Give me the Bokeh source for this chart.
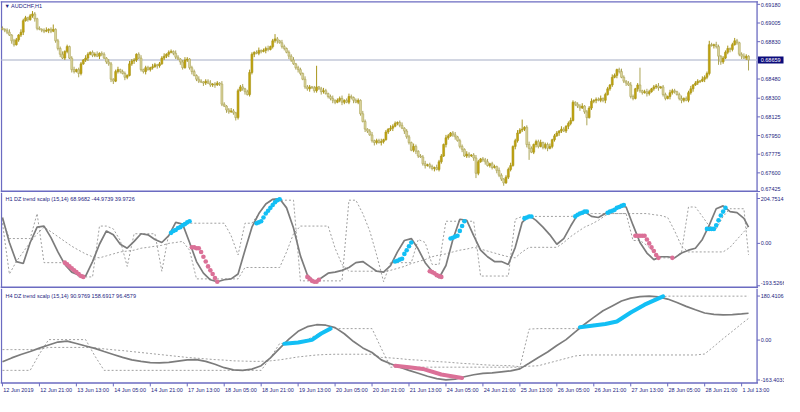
from bokeh.plotting import figure
from bokeh.layouts import column
from bokeh.models import Range1d, ColumnDataSource
from bokeh.core.properties import value
from bokeh.embed import file_html
from bokeh.resources import INLINE

# ---------------- data ----------------
symbol_title = "\u25BC AUDCHF,H1"
h1_title = "H1 DZ trend scalp (15,14) 68.9682 -44.9739 39.9726"
h4_title = "H4 DZ trend scalp (15,14) 90.9769 158.6917 96.4579"

# H1 closes in 1e-5 price units, one per bar
close_pts = [
    68946, 68937, 68919, 68892, 68838, 68802, 68847, 68892, 68919, 69027, 69054, 69036, 69072, 69090, 69045, 68955, 68946, 68937,
    68928, 68937, 68946, 68928, 68946, 68838, 68766, 68712, 68676, 68739, 68784, 68676, 68568, 68550, 68568, 68532, 68622, 68658,
    68676, 68712, 68730, 68703, 68712, 68694, 68721, 68712, 68676, 68640, 68622, 68478, 68460, 68550, 68568, 68550, 68532, 68496,
    68514, 68622, 68649, 68658, 68712, 68676, 68568, 68550, 68586, 68568, 68586, 68595, 68613, 68604, 68622, 68676, 68694, 68712,
    68730, 68739, 68721, 68685, 68667, 68640, 68586, 68658, 68667, 68586, 68550, 68514, 68478, 68460, 68451, 68442, 68460, 68442,
    68424, 68433, 68424, 68442, 68433, 68244, 68226, 68190, 68172, 68181, 68163, 68118, 68370, 68406, 68388, 68361, 68334, 68541,
    68712, 68730, 68721, 68748, 68739, 68748, 68766, 68757, 68784, 68838, 68856, 68838, 68820, 68784, 68766, 68730, 68694, 68658,
    68622, 68586, 68568, 68532, 68478, 68406, 68388, 68406, 68397, 68370, 68406, 68388, 68361, 68370, 68343, 68316, 68298, 68280,
    68262, 68280, 68298, 68262, 68280, 68262, 68316, 68307, 68280, 68262, 68280, 68154, 68082, 68010, 67992, 67956, 67902, 67884,
    67902, 67884, 67893, 67911, 67983, 68010, 68019, 68037, 68064, 68073, 68046, 68019, 67992, 67938, 67884, 67812, 67848, 67803,
    67758, 67749, 67686, 67668, 67677, 67659, 67641, 67650, 67632, 67704, 67758, 67866, 67929, 67947, 67974, 67956, 67938, 67902,
    67848, 67821, 67758, 67776, 67758, 67767, 67740, 67596, 67704, 67731, 67722, 67704, 67668, 67686, 67650, 67659, 67623, 67578,
    67542, 67506, 67560, 67632, 67668, 67848, 67902, 67974, 68001, 68010, 68028, 67866, 67830, 67794, 67866, 67893, 67848, 67884,
    67839, 67866, 67830, 67848, 67911, 67947, 67974, 67992, 68010, 67992, 68037, 68064, 68091, 68262, 68244, 68226, 68208, 68226,
    68172, 68118, 68208, 68271, 68280, 68289, 68280, 68298, 68280, 68334, 68388, 68424, 68496, 68514, 68568, 68550, 68496, 68460,
    68442, 68424, 68316, 68298, 68388, 68424, 68370, 68352, 68361, 68343, 68361, 68388, 68406, 68415, 68397, 68406, 68334, 68298,
    68316, 68352, 68370, 68361, 68334, 68298, 68280, 68298, 68280, 68352, 68388, 68424, 68442, 68460, 68460, 68478, 68496, 68532,
    68802, 68793, 68802, 68784, 68694, 68640, 68676, 68730, 68766, 68757, 68802, 68838, 68820, 68712, 68694, 68676, 68694, 68659,
]
first_open_pts = 68955
upper_wick = [
    18, 9, 18, 27, 9, 18, 18, 9, 27, 18, 18, 9, 18, 27, 18, 9, 18, 9,
    18, 27, 9, 18, 45, 9, 18, 18, 27, 9, 18, 9, 18, 27, 9, 18, 18, 9,
    27, 18, 9, 18, 18, 27, 9, 18, 18, 9, 27, 18, 9, 18, 27, 9, 18, 18,
    9, 27, 18, 18, 9, 18, 27, 9, 18, 18, 9, 27, 18, 9, 18, 18, 27, 9,
    18, 18, 9, 27, 18, 9, 18, 27, 18, 9, 18, 18, 9, 27, 18, 9, 18, 18,
    27, 9, 18, 18, 9, 27, 18, 9, 18, 27, 18, 9, 18, 18, 27, 9, 18, 27,
    18, 9, 18, 27, 9, 18, 18, 27, 9, 18, 45, 18, 9, 27, 18, 9, 18, 18,
    27, 9, 18, 18, 9, 27, 18, 18, 9, 18, 198, 9, 18, 27, 18, 9, 18, 27,
    9, 18, 18, 27, 9, 18, 27, 18, 9, 18, 18, 9, 27, 18, 9, 18, 27, 9,
    18, 18, 27, 9, 18, 9, 27, 18, 18, 9, 18, 27, 9, 18, 18, 9, 27, 18,
    9, 18, 18, 27, 9, 18, 18, 9, 27, 18, 18, 9, 27, 18, 9, 18, 27, 9,
    18, 18, 9, 27, 18, 9, 18, 27, 18, 9, 18, 18, 27, 9, 18, 18, 9, 27,
    18, 9, 18, 18, 27, 9, 18, 27, 18, 90, 9, 18, 27, 18, 9, 18, 18, 27,
    9, 18, 18, 27, 9, 18, 18, 9, 27, 18, 9, 18, 27, 18, 9, 18, 18, 27,
    9, 18, 18, 27, 9, 18, 18, 27, 9, 18, 18, 9, 27, 18, 9, 18, 27, 18,
    9, 18, 27, 18, 9, 18, 162, 9, 18, 27, 18, 9, 18, 18, 27, 9, 18, 18,
    9, 27, 18, 18, 9, 18, 27, 9, 18, 18, 27, 9, 18, 18, 9, 27, 18, 18,
    36, 18, 9, 27, 18, 9, 18, 18, 27, 9, 18, 27, 18, 9, 18, 27, 18, 9,
]
lower_wick = [
    9, 18, 18, 9, 27, 18, 9, 18, 18, 27, 9, 18, 9, 18, 27, 18, 9, 18,
    18, 9, 27, 18, 9, 18, 18, 27, 9, 18, 18, 9, 27, 18, 9, 36, 18, 9,
    18, 27, 9, 18, 18, 9, 27, 18, 9, 18, 18, 27, 27, 9, 18, 18, 9, 27,
    18, 9, 18, 27, 18, 9, 18, 18, 27, 9, 18, 18, 9, 27, 18, 9, 18, 18,
    27, 9, 18, 18, 9, 27, 18, 9, 18, 18, 27, 9, 18, 18, 9, 27, 18, 9,
    18, 18, 27, 9, 18, 18, 9, 27, 18, 9, 18, 27, 18, 9, 18, 27, 9, 18,
    18, 27, 9, 18, 18, 9, 27, 18, 9, 18, 18, 27, 9, 18, 18, 9, 27, 18,
    9, 18, 27, 18, 9, 18, 18, 27, 9, 18, 18, 9, 27, 18, 9, 18, 18, 27,
    18, 9, 18, 27, 18, 9, 18, 18, 27, 9, 18, 18, 9, 27, 18, 9, 18, 27,
    18, 9, 27, 18, 9, 18, 18, 27, 9, 18, 18, 9, 27, 18, 18, 9, 18, 27,
    18, 9, 18, 27, 9, 18, 18, 27, 9, 18, 18, 9, 27, 18, 9, 18, 27, 9,
    18, 27, 9, 18, 18, 9, 27, 45, 18, 9, 18, 27, 9, 18, 18, 9, 27, 18,
    18, 27, 9, 18, 18, 9, 27, 18, 9, 18, 18, 27, 108, 9, 18, 27, 18, 9,
    18, 18, 27, 9, 18, 18, 9, 27, 18, 9, 18, 27, 18, 9, 18, 18, 27, 9,
    18, 72, 9, 18, 18, 27, 9, 18, 18, 27, 9, 18, 18, 9, 27, 18, 9, 18,
    27, 9, 18, 18, 9, 27, 18, 18, 9, 27, 18, 9, 18, 18, 27, 9, 18, 18,
    9, 27, 18, 18, 9, 18, 27, 18, 9, 18, 18, 27, 9, 18, 18, 9, 27, 18,
    18, 9, 27, 18, 81, 27, 18, 9, 18, 27, 18, 9, 18, 18, 27, 9, 18, 99,
]
last_price = 0.68659
last_price_label = "0.68659"
price_ticks = [0.69180, 0.69005, 0.68830, 0.68480, 0.68300, 0.68125,
               0.67950, 0.67775, 0.67600, 0.67425]
price_tick_labels = ["0.69180", "0.69005", "0.68830", "0.68480", "0.68300",
                     "0.68125", "0.67950", "0.67775", "0.67600", "0.67425"]

date_tick_bars = list(range(0, 321, 16))
date_labels = ["12 Jun 2019", "12 Jun 21:00", "13 Jun 13:00", "14 Jun 05:00",
               "14 Jun 21:00", "17 Jun 13:00", "18 Jun 05:00", "18 Jun 21:00",
               "19 Jun 13:00", "20 Jun 05:00", "20 Jun 21:00", "21 Jun 13:00",
               "24 Jun 05:00", "24 Jun 21:00", "25 Jun 13:00", "26 Jun 05:00",
               "26 Jun 21:00", "27 Jun 13:00", "28 Jun 05:00", "28 Jun 21:00",
               "1 Jul 13:00"]

# H1 DZ trend scalp (sampled every 3 bars)
h1_ticks = [204.7514, 0.0, -193.5266]
h1_tick_labels = ["204.7514", "0.00", "-193.5266"]
h1_bars = list(range(0, 324, 3)) + [323]
h1_main = [118, 4, -83, -92, 4, 74, 79, 26, -39, -96,
           -131, -144, -149, -83, -4, 57, 39, -4, -22, 9,
           44, 39, 18, 4, 35, 96, 88, 4, -83, -136,
           -166, -175, -166, -162, -140, -31, 74, 136, 180, 201,
           204, 162, 70, -57, -144, -175, -158, -136, -131, -123,
           -110, -88, -83, -105, -127, -131, -101, -39, 13, 22,
           -26, -88, -127, -158, -101, 18, 110, 105, 35, -31,
           -61, -83, -83, -96, -18, 96, 127, 105, 74, 39,
           -4, 22, 79, 131, 145, 123, 118, 136, 149, 171,
           166, 83, 4, -44, -74, -61, -61, -66, -44, -31,
           -22, 18, 83, 158, 171, 145, 140, 114, 74]
h1_band_a = [110, 22, 22, 22, 22, 136, -88, -88, -88, -88,
             -118, -153, -153, -153, 79, 79, 66, 13, -105, 44,
             44, 44, 44, -127, 44, 57, 79, 92, 92, 92,
             92, 92, 92, 35, -53, 92, 92, 136, 180, 197,
             197, 197, 197, -171, -171, -171, -171, -171, -171, -171,
             197, 197, 136, 57, -53, -175, -88, -88, -88, -88,
             18, 4, -96, -96, 101, 101, 101, 101, 101, -149,
             -149, -149, -149, -149, 110, 123, 123, 123, 123, 123,
             123, 123, 123, 127, 136, 136, 136, 136, 136, 136,
             136, 13, 13, -9, -39, -66, -66, -66, -39, 166,
             166, 123, 79, 66, 123, 158, 158, 158, -53]
h1_band_b = [92, -140, -83, -39, 4, 44, 74, 53, 31, 9,
             -13, -31, -48, -61, -66, -57, -48, -39, -35, -31,
             -22, -18, -13, -9, 0, 4, 9, -31, -162, -162,
             -162, -162, -162, -162, -162, -110, -110, -110, -110, -110,
             -110, -39, 44, 79, 79, 79, 79, 79, -22, -96,
             -127, -127, -127, -127, -127, -131, -123, -114, -105, -92,
             -83, -74, -61, -53, -48, -39, -31, -26, -18, -26,
             -35, -44, -53, -61, -66, -39, -18, -18, -18, -18,
             -18, 4, 31, 53, 74, 88, 105, 127, 136, 136,
             136, 136, 136, 136, 131, 127, 118, 57, -13, -39,
             -39, -39, -39, -39, -39, -18, 18, 53, 79]
h1_up_bars = (list(range(73, 82)) + list(range(110, 121)) + list(range(170, 178))
              + list(range(194, 201)) + list(range(226, 230)) + list(range(248, 254))
              + list(range(262, 270)) + list(range(305, 314)))
h1_up_vals = ([48, 57, 61, 70, 74, 83, 88, 96, 101]
              + [92, 96, 101, 118, 136, 149, 162, 175, 188, 197, 201]
              + [-83, -79, -74, -70, -48, -31, -13, 4]
              + [22, 26, 31, 35, 57, 79, 101]
              + [114, 118, 123, 123]
              + [123, 131, 136, 140, 145, 145]
              + [140, 145, 149, 153, 162, 166, 171, 175]
              + [66, 66, 66, 66, 83, 105, 127, 145, 162])
h1_dn_bars = (list(range(27, 36)) + list(range(82, 94)) + list(range(132, 138))
              + list(range(185, 191)) + list(range(274, 285)) + [290])
h1_dn_vals = ([-88, -96, -105, -114, -123, -131, -140, -149, -153]
              + [-18, -18, -22, -22, -39, -61, -83, -105, -123, -140, -158, -175]
              + [-153, -162, -171, -175, -175, -166]
              + [-127, -131, -136, -145, -149, -153]
              + [35, 35, 35, 35, 35, 18, 0, -18, -35, -53, -66]
              + [-66])

# H4 DZ trend scalp (sampled every 4 bars)
h4_ticks = [180.4106, 0.0, -163.4033]
h4_tick_labels = ["180.4106", "0.00", "-163.4033"]
h4_bars = list(range(0, 324, 4)) + [323]
h4_main = [-89, -73, -59, -47, -33, -20, -8, -4, -14, -24,
           -34, -47, -59, -71, -81, -87, -92, -93, -91, -86,
           -81, -80, -87, -99, -113, -122, -124, -119, -105, -73,
           -34, 4, 36, 55, 63, 61, 51, 26, -6, -32,
           -51, -81, -97, -111, -124, -136, -148, -158, -163, -160,
           -150, -142, -136, -134, -130, -126, -118, -95, -71, -49,
           -22, 2, 34, 65, 93, 120, 140, 160, 172, 178,
           180, 177, 168, 154, 138, 124, 111, 105, 103, 104,
           107, 110]
h4_band_a = ([-124] * 4 + [-57] + [2] * 5 + [-65] + [-124] * 18 + [-73, -14, -14, -6, 2, 22, 41]
             + [47] * 5 + [-34] + [-111] * 15 + [45] + [47] * 5
             + [53, 65, 67, 73, 81, 113, 140, 160, 176] + [180] * 10)
h4_band_b = ([-39] * 4 + [-38] + [-30] * 5
             + [-32, -36, -40, -43, -47, -51, -55, -59, -63, -67, -71, -74, -77, -80, -82, -85,
                -86, -87, -87, -85, -81, -75, -69, -65, -61, -59]
             + [-58] * 5
             + [-71, -73, -76, -80, -82, -85, -88, -90, -93, -96, -98, -101, -103, -104, -105,
                -109, -107, -105, -95, -85, -75, -65]
             + [-61] * 13 + [-57, -26, 6, 36, 67, 89])
h4_up1_bars = [122, 128, 134, 138, 142]
h4_up1_vals = [-15, -10, 1, 27, 47]
h4_dn1_bars = [170, 176, 182, 190, 199]
h4_dn1_vals = [-105, -111, -118, -141, -155]
h4_up2_bars = [250, 261, 266, 272, 278, 286]
h4_up2_vals = [53, 66, 76, 113, 145, 179]

# ---------------- layout / style ----------------
BORDER = "#6b6bc1"
TEXT = "#25257f"
FONT = "Liberation Sans"
FS = "5.5px"
GREY = "#7c7c7c"
DOT = "#a0a0a0"
BLUE = "#12bff5"
PINK = "#db7097"
W = 784
PX = 2.357                       # bar spacing in reference pixels
X0 = -0.85                       # bar index at the left edge of the page
X1 = (800 - 2) / PX              # bar index at the right edge
XL = (1 - 2) / PX                # left border
XA = (772 - 2) / PX              # price scale line
XT = (775 - 2) / PX              # end of scale tick marks
XS = (775 - 2) / PX              # scale label start
XB = (799 - 2) / PX              # end of current price box

x_range = Range1d(X0, X1)


def pane(h, y_top, y_bot):
    p = figure(width=W, height=h, frame_width=W, frame_height=h, x_range=x_range,
               y_range=Range1d(y_bot, y_top), output_backend="svg",
               toolbar_location=None, x_axis_location=None, y_axis_location=None,
               min_border=0)
    p.grid.visible = False
    p.outline_line_color = None
    p.background_fill_color = "white"
    p.border_fill_color = "white"
    return p


def text(p, xs, ys, labels, color=TEXT, offsets=None):
    p.text(x=xs, y=ys, text=labels, text_font=value(FONT), text_font_size=value(FS),
           text_color=color, text_baseline="middle", text_align="left",
           y_offset=offsets if offsets is not None else 0)


def scale(p, ticks, labels, y_lo, y_hi, offsets):
    # vertical border lines and the value scale on the right
    p.segment(x0=[XL, XA], y0=[y_lo, y_lo], x1=[XL, XA], y1=[y_hi, y_hi],
              line_color=BORDER, line_width=1.3)
    p.segment(x0=[XA] * len(ticks), y0=ticks, x1=[XT] * len(ticks), y1=ticks,
              line_color=BORDER, line_width=1)
    text(p, [XS + 0.3] * len(ticks), ticks, labels, offsets=offsets)


# ---- main price pane: reference rows 0..200 ----
def py(y):
    return 0.6918 - (y - 4) * 0.00009


p1 = pane(192, py(0), py(200))
scale(p1, price_ticks, price_tick_labels, py(200), py(1), [0.5] + [0] * 8 + [-3])
p1.segment(x0=[X0, X0], y0=[py(1.5), py(199)], x1=[(773 - 2) / PX] * 2, y1=[py(1.5), py(199)],
           line_color=BORDER, line_width=[1.2, 2])

closes = [c / 1e5 for c in close_pts]
opens = [first_open_pts / 1e5] + closes[:-1]
highs = [max(o, c) + u / 1e5 for o, c, u in zip(opens, closes, upper_wick)]
lows = [min(o, c) - d / 1e5 for o, c, d in zip(opens, closes, lower_wick)]
bars = list(range(len(closes)))
up = [c >= o for o, c in zip(opens, closes)]

p1.segment(x0=[XL], y0=[last_price], x1=[XA], y1=[last_price],
           line_color="#c3c9d9", line_width=1.5)
src = ColumnDataSource(dict(
    x=bars, h=highs, l=lows,
    top=[max(o, c) for o, c in zip(opens, closes)],
    bot=[min(o, c) for o, c in zip(opens, closes)],
    fill=["#c2a30c" if u else "#dcd6a0" for u in up],
    wick=["#a8951a" if u else "#aca456" for u in up],
))
p1.segment(x0="x", y0="l", x1="x", y1="h", source=src, line_color="wick", line_width=1)
p1.vbar(x="x", width=0.82, top="top", bottom="bot", source=src,
        fill_color="fill", line_color="wick", line_width=0.6)

p1.quad(left=[XA + 0.4], right=[XB], top=[py(58.4)], bottom=[py(65.6)],
        fill_color="#0b0b7a", line_color=None)
text(p1, [XS + 0.3], [last_price], [last_price_label], color="white")
text(p1, [(4 - 2) / PX], [py(6)], [symbol_title])


# ---- H1 oscillator pane: reference rows 200..300 ----
def hy(y):
    return (253 - y) * 4.38


p2 = pane(96, hy(200), hy(300))
scale(p2, h1_ticks, h1_tick_labels, hy(300), hy(200), [0, 0, -2.5])
p2.segment(x0=[X0], y0=[hy(299)], x1=[(773 - 2) / PX], y1=[hy(299)],
           line_color=BORDER, line_width=2)
p2.line(h1_bars, h1_band_a, line_color=DOT, line_dash="2 2", line_width=1)
p2.line(h1_bars, h1_band_b, line_color=DOT, line_dash="2 2", line_width=1)
p2.line(h1_bars, h1_main, line_color=GREY, line_width=1.7)
p2.scatter(h1_up_bars, h1_up_vals, size=4.6, fill_color=BLUE, line_color=None)
p2.scatter(h1_dn_bars, h1_dn_vals, size=4.6, fill_color=PINK, line_color=None)
text(p2, [(5 - 2) / PX], [hy(206.5)], [h1_title])


# ---- H4 oscillator pane + time scale: reference rows 300..412 ----
def fy(y):
    return (353.5 - y) * 3.95


p3 = pane(108, fy(300), fy(412))
scale(p3, h4_ticks, h4_tick_labels, fy(398), fy(300), [0, 0, 0])
p3.segment(x0=[X0], y0=[fy(398)], x1=[(773 - 2) / PX], y1=[fy(398)],
           line_color=BORDER, line_width=1.3)
p3.segment(x0=date_tick_bars, y0=[fy(398)] * len(date_tick_bars),
           x1=date_tick_bars, y1=[fy(401.5)] * len(date_tick_bars),
           line_color=BORDER, line_width=1)
text(p3, [b + 0.35 for b in date_tick_bars], [fy(405.5)] * len(date_tick_bars), date_labels)
p3.line(h4_bars, h4_band_a, line_color=DOT, line_dash="2 2", line_width=1)
p3.line(h4_bars, h4_band_b, line_color=DOT, line_dash="2 2", line_width=1)
p3.line(h4_bars, h4_main, line_color=GREY, line_width=1.7)
p3.line(h4_up1_bars, h4_up1_vals, line_color=BLUE, line_width=4, line_cap="round")
p3.line(h4_up2_bars, h4_up2_vals, line_color=BLUE, line_width=4, line_cap="round")
p3.line(h4_dn1_bars, h4_dn1_vals, line_color=PINK, line_width=4, line_cap="round")
text(p3, [(5 - 2) / PX], [fy(307.5)], [h4_title])

layout = column(p1, p2, p3, spacing=0)
open("out.html", "w").write(file_html(layout, INLINE))
